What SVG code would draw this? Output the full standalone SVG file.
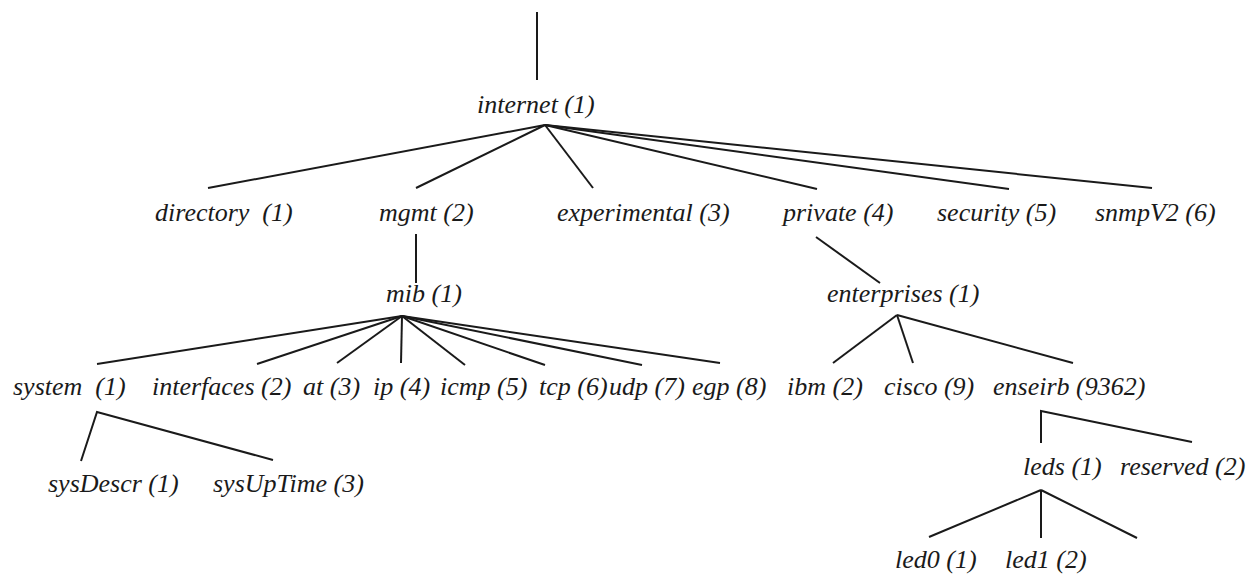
<svg xmlns="http://www.w3.org/2000/svg" width="1249" height="574" viewBox="0 0 1249 574">
<style>
text{font-family:"Liberation Serif","Times New Roman",serif;font-style:italic;font-size:26px;fill:#1a1a1a}
.c line,.c polyline{stroke:#1a1a1a;stroke-width:2;fill:none}
</style>
<rect width="1249" height="574" fill="#ffffff"/>
<g class="c" id="connectors">
<line x1="537" y1="12" x2="537" y2="80"/>
<line x1="545" y1="125" x2="208" y2="188"/>
<line x1="545" y1="125" x2="416" y2="188"/>
<line x1="545" y1="125" x2="593" y2="188"/>
<line x1="545" y1="125" x2="817" y2="189"/>
<line x1="545" y1="125" x2="1009" y2="189"/>
<line x1="545" y1="125" x2="1152" y2="188"/>
<line x1="416" y1="234" x2="416" y2="283"/>
<line x1="402" y1="316" x2="97" y2="364"/>
<line x1="402" y1="316" x2="257" y2="364"/>
<line x1="402" y1="316" x2="337" y2="363"/>
<line x1="402" y1="316" x2="401" y2="363"/>
<line x1="402" y1="316" x2="465" y2="365"/>
<line x1="402" y1="316" x2="545" y2="365"/>
<line x1="402" y1="316" x2="642" y2="365"/>
<line x1="402" y1="316" x2="720" y2="363"/>
<polyline points="81,461 97,412 273,460"/>
<line x1="816" y1="237" x2="880" y2="283"/>
<line x1="897" y1="315" x2="833" y2="363"/>
<line x1="897" y1="315" x2="913" y2="363"/>
<line x1="897" y1="315" x2="1073" y2="363"/>
<polyline points="1041,443 1041,411 1192,442"/>
<line x1="1041" y1="490" x2="929" y2="537"/>
<line x1="1041" y1="490" x2="1041" y2="538"/>
<line x1="1041" y1="490" x2="1137" y2="538"/>
</g>
<g id="internet"><text x="477" y="113">internet (1)</text></g>
<g id="directory"><text x="155" y="221" xml:space="preserve">directory  (1)</text></g>
<g id="mgmt"><text x="379" y="221">mgmt (2)</text></g>
<g id="experimental"><text x="557" y="221">experimental (3)</text></g>
<g id="private"><text x="783" y="221">private (4)</text></g>
<g id="security"><text x="937" y="221">security (5)</text></g>
<g id="snmpV2"><text x="1095" y="221">snmpV2 (6)</text></g>
<g id="mib"><text x="386" y="302">mib (1)</text></g>
<g id="enterprises"><text x="827" y="302">enterprises (1)</text></g>
<g id="system"><text x="13" y="395" xml:space="preserve">system  (1)</text></g>
<g id="interfaces"><text x="152" y="395">interfaces (2)</text></g>
<g id="at"><text x="303" y="395">at (3)</text></g>
<g id="ip"><text x="373" y="395">ip (4)</text></g>
<g id="icmp"><text x="440" y="395">icmp (5)</text></g>
<g id="tcp"><text x="539" y="395">tcp (6)</text></g>
<g id="udp"><text x="609" y="395">udp (7)</text></g>
<g id="egp"><text x="692" y="395">egp (8)</text></g>
<g id="ibm"><text x="787" y="395">ibm (2)</text></g>
<g id="cisco"><text x="884" y="395">cisco (9)</text></g>
<g id="enseirb"><text x="993" y="395">enseirb (9362)</text></g>
<g id="sysDescr"><text x="48" y="492">sysDescr (1)</text></g>
<g id="sysUpTime"><text x="213" y="492">sysUpTime (3)</text></g>
<g id="leds"><text x="1023" y="475">leds (1)</text></g>
<g id="reserved"><text x="1120" y="475">reserved (2)</text></g>
<g id="led0"><text x="895" y="568">led0 (1)</text></g>
<g id="led1"><text x="1005" y="568">led1 (2)</text></g>
</svg>
